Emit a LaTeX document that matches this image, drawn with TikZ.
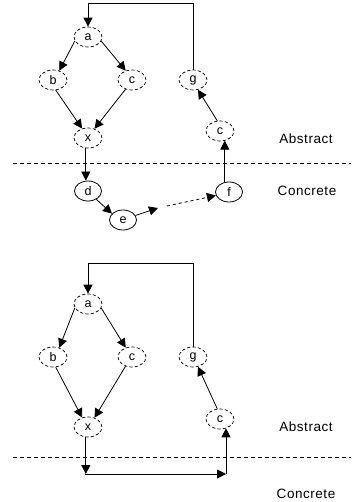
\documentclass[tikz,border=0pt]{standalone}
\usepackage{fontspec}
\setmainfont{Liberation Sans}
\usetikzlibrary{arrows.meta,calc,shapes.geometric}
\begin{document}
\begin{tikzpicture}[x=1pt,y=-1pt,
  absn/.style={draw, ellipse, dash pattern=on 3.2pt off 2.2pt, minimum width=28pt, minimum height=20pt, inner sep=0pt, font=\fontsize{12.5}{14}\selectfont, line width=0.7pt},
  conn/.style={draw, ellipse, minimum width=27pt, minimum height=20pt, inner sep=0pt, font=\fontsize{12.5}{14}\selectfont, line width=0.8pt},
  arr/.style={-{Triangle[length=9pt,width=9pt]}, line width=0.8pt},
  sepline/.style={dash pattern=on 4pt off 3pt, line width=0.8pt},
  lbl/.style={font=\fontsize{13.5}{15}\selectfont\addfontfeatures{LetterSpace=4}, inner sep=0pt}
]
\useasboundingbox (0,0) rectangle (351,502);

% ---------- top diagram ----------
\node[absn] (a) at (88,37) {a};
\node[absn] (b) at (53,80) {b};
\node[absn] (c) at (132,80) {c};
\node[absn] (g) at (193,80) {g};
\node[absn] (x) at (88,138) {x};
\node[absn] (c2) at (220,131) {c};
\node[conn] (d) at (88,191) {d};
\node[conn] (e) at (123,220) {e};
\node[conn] (f) at (229,192) {f};
\node[lbl] (abs1) at (306,139) {Abstract};
\node[lbl] (con1) at (307,191) {Concrete};
\coordinate (s1l) at (13,163);
\coordinate (s1r) at (351,163);
\draw[sepline] (s1l) -- (s1r);

\coordinate (t1) at (193,3);
\coordinate (t2) at (88,3);
\draw[arr] (g.north) -- (t1) -- (t2) -- (a.north);
\draw[arr] (a.197) -- (b.56);
\draw[arr] (a.-17) -- (c.124);
\draw[arr] (b.-75) -- (x.122);
\draw[arr] (c.-125) -- (x.55);
\draw[arr] (c2.105) -- (g.-63);
\draw[arr] (x.-102) -- (x.-102 |- d.north);
\draw[arr] (d.-45) -- (e.150);
\coordinate (p1) at (158,208);
\coordinate (p2) at (167,206);
\draw[arr] (e.20) -- (p1);
\draw[arr, dashed] (p2) -- (f.195);
\draw[arr] (f.113) -- (f.113 |- c2.-62);

% ---------- bottom diagram ----------
\node[absn] (a2) at (88,304) {a};
\node[absn] (b2) at (53,357) {b};
\node[absn] (cc2) at (132,357) {c};
\node[absn] (g2) at (193,357) {g};
\node[absn] (x2) at (88,427) {x};
\node[absn] (c4) at (220,419) {c};
\node[lbl] (abs2) at (306,427) {Abstract};
\node[lbl] (con2) at (306,494) {Concrete};
\coordinate (s2l) at (13,457);
\coordinate (s2r) at (351,457);
\draw[sepline] (s2l) -- (s2r);

\coordinate (u1) at (193,263);
\coordinate (u2) at (88,263);
\draw[arr] (g2.north) -- (u1) -- (u2) -- (a2.north);
\draw[arr] (a2.197) -- (b2.56);
\draw[arr] (a2.-17) -- (cc2.124);
\draw[arr] (b2.-75) -- (x2.122);
\draw[arr] (cc2.-125) -- (x2.55);
\draw[arr] (c4.105) -- (g2.-63);
\coordinate (k1) at (85,474);
\coordinate (k2) at (226,474);
\draw[arr] (x2.-102) -- (x2.-102 |- k1);
\draw[arr] (k1) -- (k2);
\draw[arr] (k2) -- (k2 |- c4.-56);
\end{tikzpicture}
\end{document}
